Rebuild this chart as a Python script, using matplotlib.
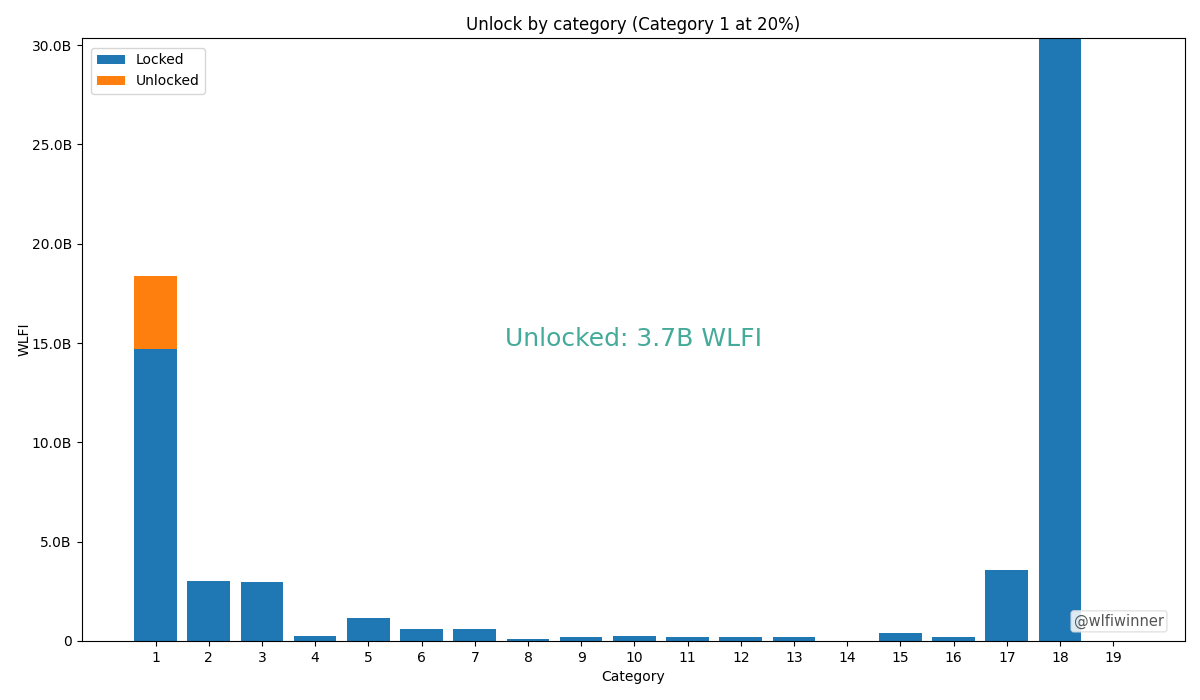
import matplotlib.pyplot as plt
from matplotlib.ticker import FuncFormatter

# values in WLFI
categories = list(range(1, 20))
locked = [14.72e9, 3.0e9, 2.95e9, 0.23e9, 1.15e9, 0.62e9, 0.62e9, 0.1e9, 0.2e9, 0.23e9,
          0.2e9, 0.2e9, 0.2e9, 0.0, 0.42e9, 0.2e9, 3.55e9, 32.0e9, 0.0]
unlocked = [3.68e9] + [0.0] * 18
unlock_pct = 20

def fmt_b(x, pos):
    if x == 0:
        return "0"
    return f"{x / 1e9:.1f}B"

fig, ax = plt.subplots(figsize=(12, 7), dpi=100)
fig.subplots_adjust(left=0.068, right=0.9875, top=0.9457, bottom=0.0843)

ax.bar(categories, locked, width=0.8, color="#1f77b4", label="Locked")
ax.bar(categories, unlocked, width=0.8, bottom=locked, color="#ff7f0e", label="Unlocked")

ax.set_xticks(categories)
ax.set_xlim(-0.39, 20.35)
ax.set_ylim(0, 1.65 * (locked[0] + unlocked[0]))
ax.yaxis.set_major_formatter(FuncFormatter(fmt_b))

ax.set_xlabel("Category")
ax.set_ylabel("WLFI", labelpad=0)
ax.set_title(f"Unlock by category (Category 1 at {unlock_pct}%)")
ax.legend(loc="upper left", borderaxespad=0.7)

total_unlocked = sum(unlocked)
ax.text(0.5, 0.5, f"Unlocked: {total_unlocked / 1e9:.1f}B WLFI", transform=ax.transAxes,
        ha="center", va="center", fontsize=18, color="#44aa99")

ax.text(0.981, 0.02, "@wlfiwinner", transform=ax.transAxes, ha="right", va="bottom",
        fontsize=10.5, color="#555555",
        bbox=dict(boxstyle="round,pad=0.2", fc="white", ec="#dddddd", alpha=0.85))

plt.savefig("out.png")
